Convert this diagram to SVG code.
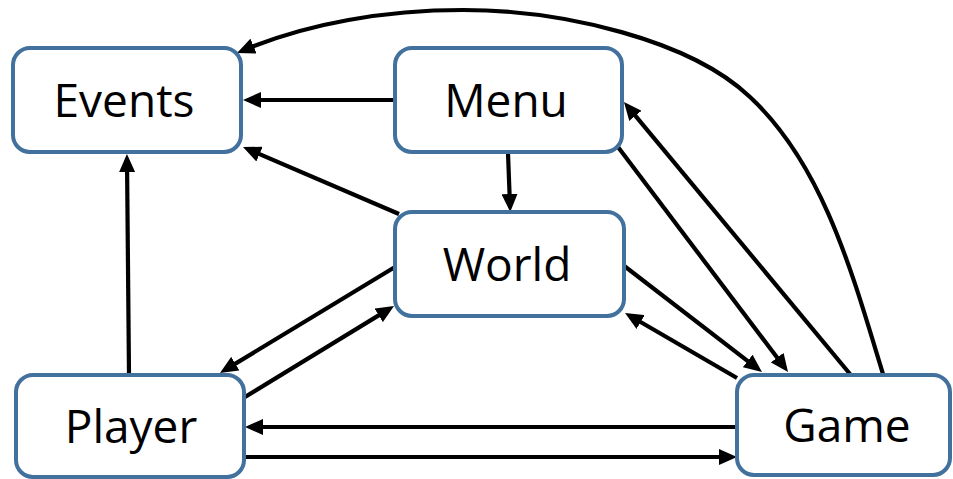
<svg xmlns="http://www.w3.org/2000/svg" width="953" height="479" viewBox="0 0 953 479">
  <defs>
    <marker id="arrow" markerWidth="18" markerHeight="16" refX="12" refY="8" orient="auto" markerUnits="userSpaceOnUse">
      <path d="M0,0 L18,8 L0,16 z" fill="#000"/>
    </marker>
    <style>
      .node rect { fill: #fff; stroke: #41719C; stroke-width: 4; }
      .node text { font-family: "Open Sans", "Liberation Sans", sans-serif; font-size: 46px; fill: #000; text-anchor: middle; }
      .edges path, .edges line { fill: none; stroke: #000; stroke-width: 4.2; marker-end: url(#arrow); }
    </style>
  </defs>
  <rect width="953" height="479" fill="#fff"/>

  <g id="edges" class="edges">
    <!-- Menu -> Events -->
    <line x1="394" y1="100" x2="249" y2="100"/>
    <!-- World -> Events -->
    <line x1="399" y1="214" x2="248.5" y2="149.4"/>
    <!-- Player -> Events -->
    <line x1="129" y1="374" x2="127" y2="160"/>
    <!-- Game -> Events (arc over the top) -->
    <path d="M883,374 C853,276 824,166 750,97 C690,40 563,10 463,10 C386,10 308,23 242.5,50.7"/>
    <!-- Menu -> World -->
    <line x1="508" y1="153" x2="510" y2="206"/>
    <!-- Menu -> Game -->
    <line x1="618" y1="147" x2="784.4" y2="367.2"/>
    <!-- Game -> Menu -->
    <line x1="850" y1="374" x2="627.8" y2="106.6"/>
    <!-- World -> Game -->
    <line x1="623" y1="265" x2="757.2" y2="368.3"/>
    <!-- Game -> World -->
    <line x1="737" y1="378" x2="630.2" y2="316"/>
    <!-- World -> Player -->
    <line x1="395" y1="267" x2="225.1" y2="369.9"/>
    <!-- Player -> World -->
    <line x1="245" y1="397" x2="388.9" y2="309.1"/>
    <!-- Game -> Player -->
    <line x1="737" y1="427" x2="251" y2="427"/>
    <!-- Player -> Game -->
    <line x1="245" y1="457" x2="731" y2="457"/>
  </g>

  <g id="node-events" class="node">
    <rect x="13" y="48" width="228" height="104" rx="17"/>
    <text x="124" y="117">Events</text>
  </g>
  <g id="node-menu" class="node">
    <rect x="395" y="48" width="227" height="104" rx="17"/>
    <text x="506" y="117">Menu</text>
  </g>
  <g id="node-world" class="node">
    <rect x="395" y="212" width="229" height="104" rx="17"/>
    <text x="507" y="281">World</text>
  </g>
  <g id="node-player" class="node">
    <rect x="16" y="375" width="228" height="102" rx="17"/>
    <text x="131" y="443">Player</text>
  </g>
  <g id="node-game" class="node">
    <rect x="737" y="375" width="213" height="100" rx="17"/>
    <text x="847" y="442">Game</text>
  </g>
</svg>
